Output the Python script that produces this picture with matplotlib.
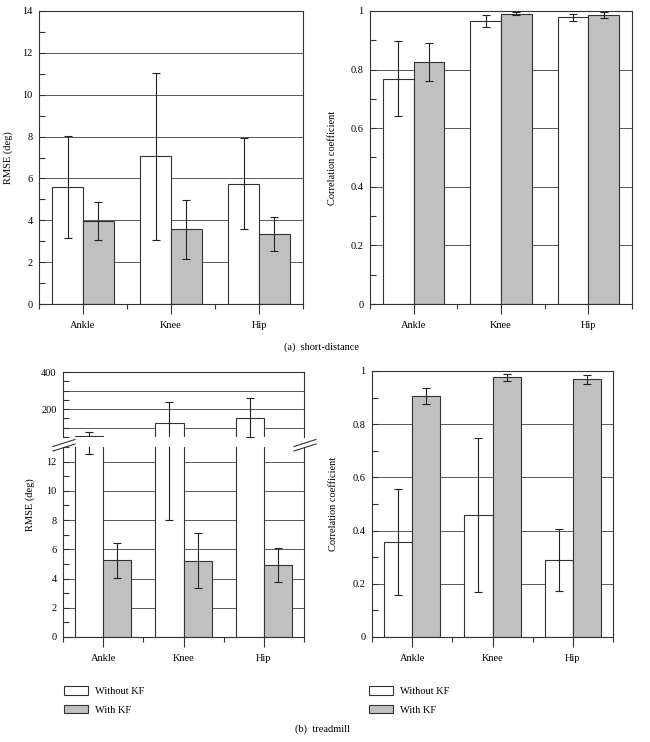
import matplotlib
matplotlib.use('Agg')
import matplotlib.pyplot as plt
import numpy as np
from matplotlib.lines import Line2D
from matplotlib.patches import Patch
from matplotlib.ticker import MultipleLocator, FuncFormatter

plt.rcParams['font.family'] = ['Liberation Serif', 'DejaVu Serif']
plt.rcParams['font.size'] = 7.5

categories = ['Ankle', 'Knee', 'Hip']
series_names = ['Without KF', 'With KF']

# (a) short-distance
sd_rmse_without = [5.61, 7.06, 5.75]
sd_rmse_without_err = [2.44, 3.99, 2.18]
sd_rmse_with = [3.97, 3.57, 3.35]
sd_rmse_with_err = [0.90, 1.40, 0.82]
sd_corr_without = [0.769, 0.966, 0.978]
sd_corr_without_err = [0.128, 0.020, 0.012]
sd_corr_with = [0.825, 0.990, 0.986]
sd_corr_with_err = [0.065, 0.005, 0.009]

# (b) treadmill
tm_rmse_without = [53, 123, 155]
tm_rmse_without_err_low = [40.5, 115, 104]
tm_rmse_without_err_high = [23, 115, 106]
tm_rmse_with = [5.26, 5.22, 4.90]
tm_rmse_with_err = [1.20, 1.89, 1.17]
tm_corr_without = [0.357, 0.459, 0.290]
tm_corr_without_err = [0.199, 0.290, 0.116]
tm_corr_with = [0.906, 0.977, 0.969]
tm_corr_with_err = [0.031, 0.013, 0.017]

W, H = 650, 742
EDGE = '#333333'
GRAY = '#c0c0c0'
GRID = '#5a5a5a'
BW = 0.35

fig = plt.figure(figsize=(W / 100, H / 100), dpi=100)


def rect(l, t, r, b):
    return [l / W, 1 - b / H, (r - l) / W, (b - t) / H]


def fmt_g(v, pos):
    return f'{v:g}'


def style(ax, ylim, major, minor, xticks=True):
    x = np.arange(len(categories))
    ax.set_xlim(-0.5, len(categories) - 0.5)
    ax.set_ylim(*ylim)
    if xticks:
        ax.set_xticks(x)
        ax.set_xticklabels(categories)
        ax.set_xticks(np.arange(len(categories) + 1) - 0.5, minor=True)
        ax.tick_params(axis='x', which='major', direction='out', length=7.5,
                       width=0.8, color=EDGE, pad=4.5)
        ax.tick_params(axis='x', which='minor', direction='out', length=3.6,
                       width=0.8, color=EDGE)
    else:
        ax.set_xticks([])
        ax.set_xticks([], minor=True)
    ax.yaxis.set_major_locator(MultipleLocator(major))
    ax.yaxis.set_minor_locator(MultipleLocator(minor))
    ax.yaxis.set_major_formatter(FuncFormatter(fmt_g))
    ax.tick_params(axis='y', which='both', direction='in', length=4,
                   width=0.8, color=EDGE, pad=4.5)
    ax.grid(axis='y', which='major', color=GRID, lw=0.7)
    ax.set_axisbelow(True)
    for s in ax.spines.values():
        s.set_color(EDGE)
        s.set_linewidth(0.8)


def draw(ax, v1, e1, v2, e2):
    x = np.arange(len(categories))
    ax.bar(x - BW / 2, v1, BW, color='white', edgecolor=EDGE, lw=0.8, zorder=2)
    ax.bar(x + BW / 2, v2, BW, color=GRAY, edgecolor=EDGE, lw=0.8, zorder=2)
    ax.errorbar(x - BW / 2, v1, yerr=e1, fmt='none', ecolor='#222222',
                elinewidth=0.8, capsize=3, capthick=0.8, zorder=3)
    ax.errorbar(x + BW / 2, v2, yerr=e2, fmt='none', ecolor='#222222',
                elinewidth=0.8, capsize=3, capthick=0.8, zorder=3)


# (a) left: RMSE
ax1 = fig.add_axes(rect(39, 11, 303, 304))
style(ax1, (0, 14), 2, 1)
draw(ax1, sd_rmse_without, sd_rmse_without_err, sd_rmse_with, sd_rmse_with_err)
ax1.set_ylabel('RMSE (deg)')
ax1.yaxis.set_label_coords(-0.098, 0.5)

# (a) right: correlation
ax2 = fig.add_axes(rect(370, 11, 632, 304))
style(ax2, (0, 1), 0.2, 0.1)
draw(ax2, sd_corr_without, sd_corr_without_err, sd_corr_with, sd_corr_with_err)
ax2.set_ylabel('Correlation coefficient')
ax2.yaxis.set_label_coords(-0.126, 0.5)

# (b) left: RMSE with broken axis
tm_err_without = [tm_rmse_without_err_low, tm_rmse_without_err_high]
ax3u = fig.add_axes(rect(63, 372, 304, 437))
style(ax3u, (50, 400), 100, 50, xticks=False)
ax3u.yaxis.set_major_formatter(FuncFormatter(lambda v, p: f'{v:.0f}' if v % 200 == 0 else ''))
ax3u.spines['bottom'].set_visible(False)
draw(ax3u, tm_rmse_without, tm_err_without, tm_rmse_with, tm_rmse_with_err)

ax3l = fig.add_axes(rect(63, 447, 304, 637))
style(ax3l, (0, 13), 2, 1)
ax3l.spines['top'].set_visible(False)
draw(ax3l, tm_rmse_without, tm_err_without, tm_rmse_with, tm_rmse_with_err)
ax3l.set_ylabel('RMSE (deg)')
ax3l.yaxis.set_label_coords(-0.116, 0.695)

# break marks
for xa, xb in [(53, 75), (294, 316)]:
    for dy in (0, 4.5):
        fig.add_artist(Line2D([xa / W, xb / W],
                              [1 - (446.5 + dy) / H, 1 - (439.5 + dy) / H],
                              transform=fig.transFigure, color=EDGE, lw=0.8))

# (b) right: correlation
ax4 = fig.add_axes(rect(372, 371, 613, 637))
style(ax4, (0, 1), 0.2, 0.1)
draw(ax4, tm_corr_without, tm_corr_without_err, tm_corr_with, tm_corr_with_err)
ax4.set_ylabel('Correlation coefficient')
ax4.yaxis.set_label_coords(-0.141, 0.5)

# legends
handles = [Patch(facecolor='white', edgecolor=EDGE, lw=0.8, label=series_names[0]),
           Patch(facecolor=GRAY, edgecolor=EDGE, lw=0.8, label=series_names[1])]
for lx in (64, 369):
    fig.legend(handles=handles, loc='upper left',
               bbox_to_anchor=(lx / W, 1 - 686 / H), frameon=False,
               handlelength=2.3, handleheight=0.9, handletextpad=0.7,
               labelspacing=0.85, borderpad=0, borderaxespad=0)

# captions
fig.text(322 / W, 1 - 347 / H, '(a)  short-distance', ha='center', va='center')
fig.text(322 / W, 1 - 729 / H, '(b)  treadmill', ha='center', va='center')

fig.savefig('out.png', dpi=100)
